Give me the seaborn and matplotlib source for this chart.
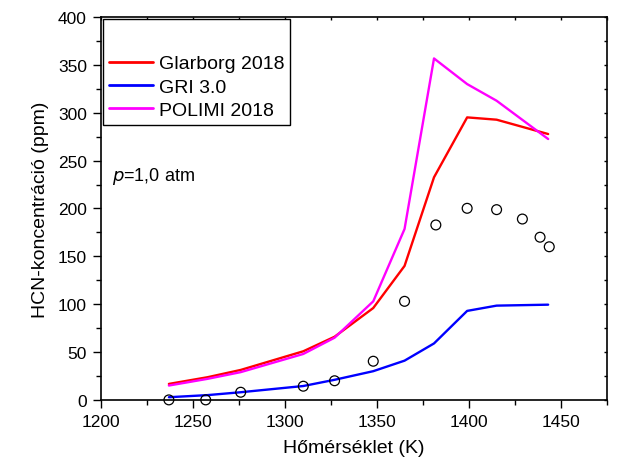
import numpy as np
import pandas as pd
import matplotlib
matplotlib.use("Agg")
import matplotlib.pyplot as plt
import seaborn as sns
from matplotlib.ticker import MultipleLocator

# Model temperatures (K) and predicted HCN (ppm)
model_T = [1237, 1258, 1276, 1310, 1327, 1348, 1365, 1381, 1399, 1415, 1443]
glarborg_2018 = [16.7, 23.7, 31.3, 50.8, 66, 96, 140, 232.6, 295.2, 292.8, 277.8]
gri_30 = [2.8, 5, 8, 14.5, 21, 30, 41, 59, 93, 98.5, 99.5]
polimi_2018 = [15, 22, 29, 48, 65, 103, 178.6, 356.8, 330, 312.6, 272.6]

# Measured HCN
exp_T = [1237, 1257, 1276, 1310, 1327, 1348, 1365, 1382, 1399, 1415, 1429, 1438.6, 1443.6]
exp_HCN = [0, 0, 8, 14.3, 20, 40.4, 103, 182.8, 200.2, 198.8, 189, 170, 160]

model_names = ["Glarborg 2018", "GRI 3.0", "POLIMI 2018"]
model_colors = {"Glarborg 2018": "#ff0000", "GRI 3.0": "#0000ff", "POLIMI 2018": "#ff00ff"}

models = pd.concat([
    pd.DataFrame({"T": model_T, "HCN": vals, "model": name})
    for name, vals in zip(model_names, [glarborg_2018, gri_30, polimi_2018])
], ignore_index=True)
measured = pd.DataFrame({"T": exp_T, "HCN": exp_HCN})

sns.set_theme(style="ticks")
plt.rcParams["font.family"] = ["Liberation Sans", "DejaVu Sans"]
plt.rcParams.update({"text.color": "black", "axes.labelcolor": "black",
                     "xtick.color": "black", "ytick.color": "black"})

fig = plt.figure(figsize=(6.22, 4.64), dpi=100)
ax = fig.add_axes([0.162, 0.136, 0.814, 0.825])

sns.lineplot(data=models, x="T", y="HCN", hue="model", hue_order=model_names,
             palette=model_colors, linewidth=1.7, ax=ax, sort=False)
sns.scatterplot(data=measured, x="T", y="HCN", marker="o", s=50,
                facecolors="none", edgecolor="black", linewidth=0.9,
                ax=ax, legend=False, clip_on=False, zorder=5)

ax.set_xlim(1200, 1475)
ax.set_ylim(0, 400)
ax.xaxis.set_major_locator(MultipleLocator(50))
ax.xaxis.set_minor_locator(MultipleLocator(25))
ax.yaxis.set_major_locator(MultipleLocator(50))
ax.yaxis.set_minor_locator(MultipleLocator(25))

ax.tick_params(which="major", direction="out", length=6, width=1.0,
               labelsize=12.5, colors="black", pad=4)
ax.tick_params(which="minor", direction="out", length=3.5, width=1.0, colors="black")
ax.tick_params(axis="x", which="both", top=True, labeltop=False)
ax.tick_params(axis="y", which="both", right=True, labelright=False)
# short faint ticks on the mirrored sides
for t in ax.xaxis.get_major_ticks() + ax.xaxis.get_minor_ticks():
    t.tick2line.set_markersize(2)
    t.tick2line.set_color("#999999")
    t.tick2line.set_marker(3)
for t in ax.yaxis.get_major_ticks() + ax.yaxis.get_minor_ticks():
    t.tick2line.set_markersize(2)
    t.tick2line.set_color("#999999")
    t.tick2line.set_marker(0)

for sp in ax.spines.values():
    sp.set_color("black")
    sp.set_linewidth(1.2)

ax.set_xlabel("Hőmérséklet (K)", fontsize=14, labelpad=7)
ax.set_ylabel("HCN-koncentráció (ppm)", fontsize=14, labelpad=6)

ax.text(0.022, 0.585, r"$\it{p}$=1,0 atm", transform=ax.transAxes,
        fontsize=13, ha="left", va="center")

leg = ax.legend(title=" ", loc="upper left", fontsize=14, title_fontsize=18,
                frameon=True, fancybox=False, framealpha=1, edgecolor="black",
                borderaxespad=0.1, handlelength=2.3, handletextpad=0.3,
                labelspacing=0.3, borderpad=0.3)
leg.get_frame().set_linewidth(1.0)
for line in leg.get_lines():
    line.set_linewidth(2.0)

fig.savefig("out.png", dpi=100)
